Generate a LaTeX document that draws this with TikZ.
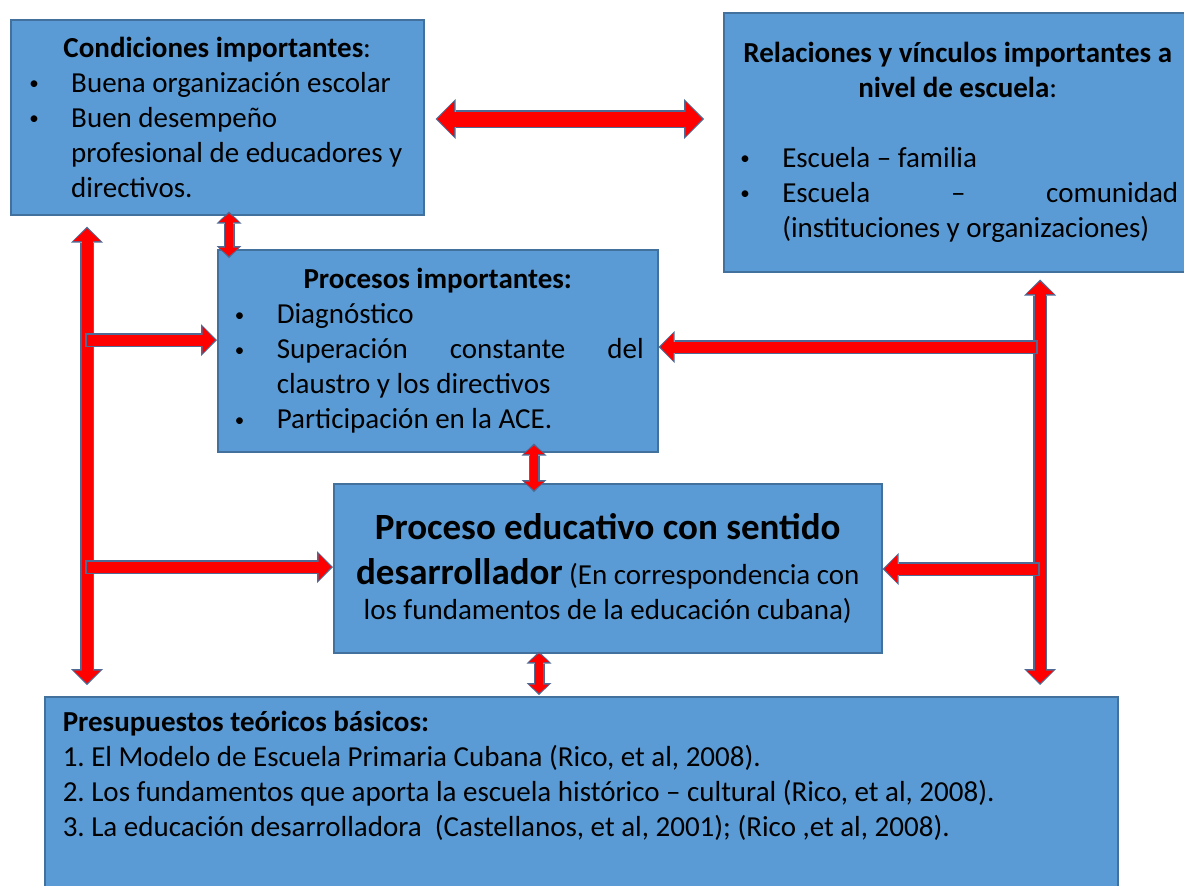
\documentclass[tikz,border=0pt]{standalone}
\usepackage{fontspec}
\setmainfont{Carlito}
\usetikzlibrary{arrows.meta}
\definecolor{boxblue}{HTML}{5B9BD5}
\definecolor{boxedge}{HTML}{41719C}
\definecolor{arrowred}{HTML}{FF0000}
\definecolor{arrowedge}{HTML}{4F6A94}
\frenchspacing
% bullet item with hanging indent, centred title line
\newcommand\itm{\par\hangindent=45pt\hangafter=1\noindent
  \makebox[45pt][l]{\hspace{3pt}\raisebox{2.5pt}{\fontsize{19}{19}\selectfont\textbullet}}}
\newcommand\ctr[1]{{\centering #1\par}}

\begin{document}
\begin{tikzpicture}[x=1pt,y=-1pt,
  box/.style={draw=boxedge, line width=1.5pt, fill=boxblue, anchor=north west,
    inner ysep=0pt, align=justify, font=\fontsize{29}{35}\selectfont},
  bigout/.style 2 args={draw=arrowedge, line width=18pt, shorten <=#1, shorten >=#2,
    >={Triangle[length=20pt,width=40pt,line width=0pt]}},
  bigin/.style 2 args={draw=arrowred, line width=15pt, shorten <=#1+2pt, shorten >=#2+2pt,
    >={Triangle[length=16.5pt,width=35pt,line width=0pt]}},
  midout/.style 2 args={draw=arrowedge, line width=14pt, shorten <=#1, shorten >=#2,
    >={Triangle[length=16pt,width=32pt,line width=0pt]}},
  midin/.style 2 args={draw=arrowred, line width=11pt, shorten <=#1+2pt, shorten >=#2+2pt,
    >={Triangle[length=12.5pt,width=27pt,line width=0pt]}},
  smlout/.style 2 args={draw=arrowedge, line width=11pt, shorten <=#1, shorten >=#2,
    >={Triangle[length=12pt,width=25pt,line width=0pt]}},
  smlin/.style 2 args={draw=arrowred, line width=8pt, shorten <=#1+2pt, shorten >=#2+2pt,
    >={Triangle[length=8.5pt,width=20pt,line width=0pt]}}]
\useasboundingbox (0,0) rectangle (1184,886);

% boxes
\node[box, minimum width=413pt, minimum height=195pt, text width=382pt, inner xsep=15.5pt] (A) at (10,19) {%
  \ctr{\textbf{Condiciones importantes}:}
  \itm Buena organización escolar
  \itm Buen desempeño\newline profesional de educadores y\newline directivos.\par};
\node[box, minimum width=468pt, minimum height=259pt, text width=441pt, inner xsep=11pt] (B) at (723,12) {%
  \ctr{\textbf{Relaciones y vínculos importantes a}\\\textbf{nivel de escuela}:}
  \vspace{35pt}
  \itm Escuela – familia
  \itm Escuela – comunidad\linebreak (instituciones y organizaciones)\par};
\node[box, minimum width=440pt, minimum height=202pt, text width=412pt, inner xsep=14pt] (C) at (217,249) {%
  \ctr{\textbf{Procesos importantes:}}
  \itm Diagnóstico
  \itm Superación constante del\linebreak claustro y los directivos
  \itm Participación en la ACE.\par};
\node[box, minimum width=548pt, minimum height=169pt, text width=520pt, inner xsep=14pt] (D) at (333,483) {%
  \ctr{{\fontsize{37}{45}\selectfont\bfseries Proceso educativo con sentido}\\[10pt]
  {\fontsize{37}{45}\selectfont\bfseries desarrollador} (En correspondencia con\\
  los fundamentos de la educación cubana)}};
\node[box, minimum width=1073pt, text width=1037pt, inner xsep=18pt, inner ysep=11pt,
  text height=24pt, text depth=150pt] (E) at (44,696) {%
  \textbf{Presupuestos teóricos básicos:}\\
  1. El Modelo de Escuela Primaria Cubana (Rico, et al, 2008).\\
  2. Los fundamentos que aporta la escuela histórico – cultural (Rico, et al, 2008).\\
  3. La educación desarrolladora\ \ (Castellanos, et al, 2001); (Rico ,et al, 2008).\par};

% where the arrows run
\coordinate (lx) at (87,0);
\coordinate (rx) at (1040,0);
\coordinate (ab) at (0,119);
\coordinate (ac) at (229,0);
\coordinate (cd) at (534,0);
\coordinate (de) at (539,0);
\coordinate (cl) at (0,340);
\coordinate (cr) at (0,347);
\coordinate (dl) at (0,567);
\coordinate (dr) at (0,569);

% side bars
\path (A.south -| lx) edge[midout={11pt}{11pt},<->] (E.north -| lx)
                      edge[midin={11pt}{11pt},<->] (E.north -| lx);
\path (B.south -| rx) edge[midout={7pt}{11pt},<->] (E.north -| rx)
                      edge[midin={7pt}{11pt},<->] (E.north -| rx);
% arrows into the middle boxes
\path (lx |- cl) edge[midout={-2pt}{0pt},->] (C.west |- cl)
                 edge[midin={-2pt}{0pt},->] (C.west |- cl);
\path (lx |- dl) edge[midout={-2pt}{0pt},->] (D.west |- dl)
                 edge[midin={-2pt}{0pt},->] (D.west |- dl);
\path (rx |- cr) edge[midout={2pt}{0pt},->] (C.east |- cr)
                 edge[midin={2pt}{0pt},->] (C.east |- cr);
\path (rx |- dr) edge[midout={0pt}{0pt},->] (D.east |- dr)
                 edge[midin={0pt}{0pt},->] (D.east |- dr);
% short links
\path (A.east |- ab) edge[bigout={11pt}{19pt},<->] (B.west |- ab)
                     edge[bigin={11pt}{19pt},<->] (B.west |- ab);
\path (A.south -| ac) edge[smlout={-4pt}{-9pt},<->] (C.north -| ac)
                      edge[smlin={-4pt}{-9pt},<->] (C.north -| ac);
\path (C.south -| cd) edge[smlout={-9pt}{-9pt},<->] (D.north -| cd)
                      edge[smlin={-9pt}{-9pt},<->] (D.north -| cd);
\path (D.south -| de) edge[smlout={-2pt}{1pt},<->] (E.north -| de)
                      edge[smlin={-2pt}{1pt},<->] (E.north -| de);
\end{tikzpicture}
\end{document}
